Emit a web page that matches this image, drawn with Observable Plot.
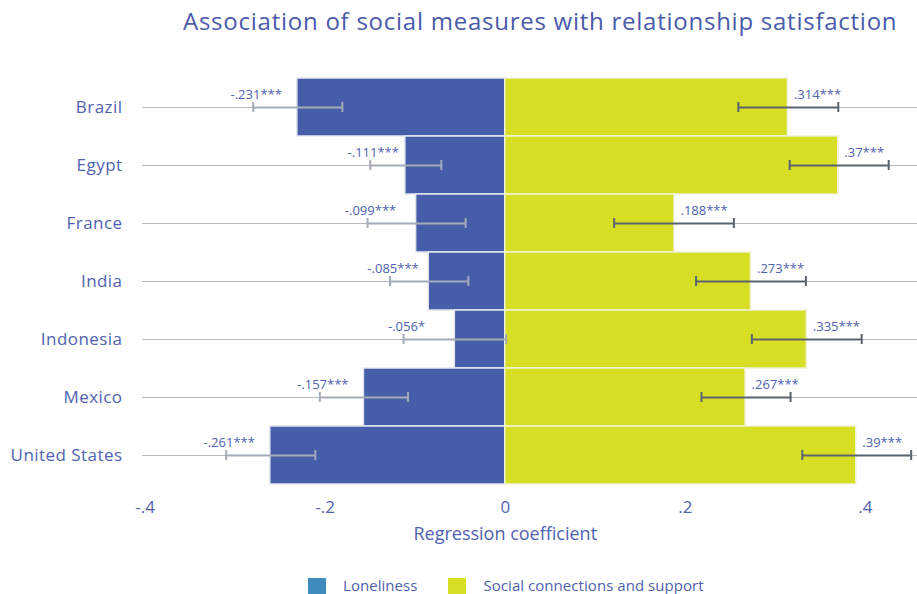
<!DOCTYPE html>
<html>
<head>
<meta charset="utf-8">
<script src="https://cdn.jsdelivr.net/npm/d3@7"></script>
<script src="https://cdn.jsdelivr.net/npm/@observablehq/plot@0.6"></script>
<style>
  html, body { margin: 0; padding: 0; background: #fff; }
  #wrap { position: relative; width: 917px; height: 594px; font-family: "Open Sans", sans-serif; overflow: hidden; }
  #title { position: absolute; left: 183px; top: 5px; font-size: 24px; line-height: 32px; letter-spacing: 0.75px; color: #4a5aab; white-space: nowrap; }
  #chart { position: absolute; left: 0; top: 0; }
  #legend { position: absolute; top: 577px; left: 308px; display: flex; align-items: center; font-size: 15px; line-height: 17px; letter-spacing: 0.05px; color: #4f5fae; white-space: nowrap; }
  .sw { width: 18px; height: 16px; display: inline-block; margin-right: 17px; }
  g[aria-label="y-axis tick label"] text { letter-spacing: 0.45px; }
</style>
</head>
<body>
<div id="wrap">
  <div id="title">Association of social measures with relationship satisfaction</div>
  <div id="chart"></div>
  <div id="legend">
    <span class="sw" style="background:#3d8bbf"></span><span style="margin-right:31px">Loneliness</span>
    <span class="sw" style="background:#d6df23"></span><span>Social connections and support</span>
  </div>
</div>
<script>
const countries = ["Brazil", "Egypt", "France", "India", "Indonesia", "Mexico", "United States"];
const lonelinessValues = [-0.231, -0.111, -0.099, -0.085, -0.056, -0.157, -0.261];
const lonelinessLow    = [-0.280, -0.150, -0.153, -0.128, -0.113, -0.206, -0.310];
const lonelinessHigh   = [-0.181, -0.071, -0.044, -0.041,  0.001, -0.108, -0.211];
const lonelinessLabels = ["-.231***", "-.111***", "-.099***", "-.085***", "-.056*", "-.157***", "-.261***"];
const socialValues = [0.314, 0.370, 0.188, 0.273, 0.335, 0.267, 0.390];
const socialLow    = [0.259, 0.316, 0.121, 0.212, 0.274, 0.218, 0.330];
const socialHigh   = [0.370, 0.426, 0.254, 0.334, 0.396, 0.317, 0.451];
const socialLabels = [".314***", ".37***", ".188***", ".273***", ".335***", ".267***", ".39***"];
const xTicks = [-0.4, -0.2, 0, 0.2, 0.4];
const xTickLabels = ["-.4", "-.2", "0", ".2", ".4"];

const lonely = countries.map((c, i) => ({country: c, value: lonelinessValues[i], lo: lonelinessLow[i], hi: lonelinessHigh[i], label: lonelinessLabels[i]}));
const social = countries.map((c, i) => ({country: c, value: socialValues[i], lo: socialLow[i], hi: socialHigh[i], label: socialLabels[i]}));
const fmtX = d => xTickLabels[xTicks.findIndex(t => Math.abs(t - d) < 1e-9)];

const textColor = "#5062b0";
const chart = Plot.plot({
  width: 917,
  height: 560,
  marginLeft: 142,
  marginRight: 0,
  marginTop: 77,
  marginBottom: 76,
  style: {fontFamily: "Open Sans, sans-serif", color: textColor, background: "transparent"},
  x: {domain: [-0.403, 0.458], ticks: xTicks, tickFormat: fmtX},
  y: {domain: countries, padding: 0, label: null},
  marks: [
    Plot.gridY({stroke: "#b8b8bc", strokeOpacity: 1, strokeWidth: 1}),
    Plot.barX(lonely, {x: "value", y: "country", fill: "#465ea9", stroke: "#e4e6ee", strokeWidth: 1.5}),
    Plot.barX(social, {x: "value", y: "country", fill: "#d6df23", stroke: "#f0f2d8", strokeWidth: 1.5}),
    Plot.ruleY(lonely, {y: "country", x1: "lo", x2: "hi", stroke: "#a3abb8", strokeWidth: 2.2}),
    Plot.tickX(lonely, {x: "lo", y: "country", stroke: "#a3abb8", strokeWidth: 2, insetTop: 24, insetBottom: 24}),
    Plot.tickX(lonely, {x: "hi", y: "country", stroke: "#a3abb8", strokeWidth: 2, insetTop: 24, insetBottom: 24}),
    Plot.ruleY(social, {y: "country", x1: "lo", x2: "hi", stroke: "#5a6470", strokeWidth: 2.2}),
    Plot.tickX(social, {x: "lo", y: "country", stroke: "#5a6470", strokeWidth: 2, insetTop: 24, insetBottom: 24}),
    Plot.tickX(social, {x: "hi", y: "country", stroke: "#5a6470", strokeWidth: 2, insetTop: 24, insetBottom: 24}),
    Plot.text(lonely, {x: "lo", y: "country", text: "label", textAnchor: "middle", dx: 3, dy: -13, fill: textColor, fontSize: 13}),
    Plot.text(social, {x: "value", y: "country", text: "label", textAnchor: "start", dx: 6, dy: -13, fill: textColor, fontSize: 13}),
    Plot.axisX({ticks: xTicks, tickFormat: fmtX, tickSize: 0, tickPadding: 16, fontSize: 17, label: null, fill: textColor}),
    Plot.axisY({tickSize: 0, tickPadding: 20, fontSize: 17, label: null, fill: textColor}),
    Plot.text(["Regression coefficient"], {x: 0, frameAnchor: "bottom", dy: 55, fill: textColor, fontSize: 18})
  ]
});
document.getElementById("chart").appendChild(chart);
</script>
</body>
</html>
